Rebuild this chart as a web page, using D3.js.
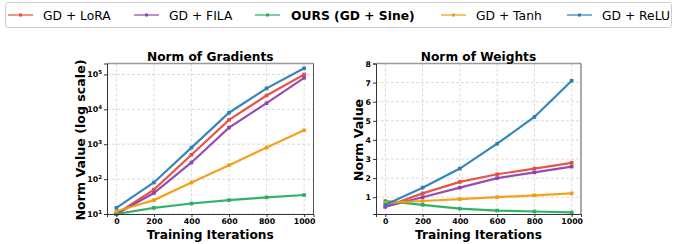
<!DOCTYPE html>
<html>
<head>
<meta charset="UTF-8">
<style>
  body { margin: 0; background: #fff; font-family: 'DejaVu Sans', sans-serif; }
  svg text { font-family: 'DejaVu Sans', sans-serif; }
  .grid line { stroke: #ccc; stroke-dasharray: 3,2; stroke-width: 0.7; }
</style>
</head>
<body>
<svg width="674" height="244"></svg>
<script src="https://cdnjs.cloudflare.com/ajax/libs/d3/7.8.5/d3.min.js"></script>
<script>
const iters = [0, 200, 400, 600, 800, 1000];
const seriesNames = ["GD + LoRA", "GD + FILA", "OURS (GD + Sine)", "GD + Tanh", "GD + ReLU"];
const colors = ["#e74c3c", "#8e44ad", "#27ae60", "#f39c12", "#2980b9"];

// Norm of gradients (log)
const gradLoRA = [10, 50, 500, 5000, 25000, 100000];
const gradFILA = [10, 40, 300, 3000, 15000, 80000];
const gradOurs = [10, 15, 20, 25, 30, 35];
const gradTanh = [12, 25, 80, 250, 800, 2500];
const gradReLU = [15, 80, 800, 8000, 40000, 150000];

// Norm of weights
const wLoRA = [0.5, 1.2, 1.8, 2.2, 2.5, 2.8];
const wFILA = [0.5, 1.0, 1.5, 2.0, 2.3, 2.6];
const wOurs = [0.8, 0.6, 0.4, 0.3, 0.25, 0.2];
const wTanh = [0.7, 0.8, 0.9, 1.0, 1.1, 1.2];
const wReLU = [0.6, 1.5, 2.5, 3.8, 5.2, 7.1];

const xTicks = [0, 200, 400, 600, 800, 1000];
const gradTicks = [10, 100, 1000, 10000, 100000];
const wTicks = [1, 2, 3, 4, 5, 6, 7, 8];

const svg = d3.select("svg");

// legend
const leg = svg.append("g");
leg.append("rect").attr("x", 5.5).attr("y", 2.5).attr("width", 666).attr("height", 25)
  .attr("rx", 3).attr("fill", "#fff").attr("stroke", "#ccc");
const legX = [8, 134, 255, 441, 567];
seriesNames.forEach((name, i) => {
  const g = leg.append("g").attr("transform", `translate(${legX[i]},15)`);
  g.append("line").attr("x1", 0).attr("x2", 25).attr("stroke", colors[i]).attr("stroke-width", 1.2);
  g.append("rect").attr("x", 11).attr("y", -1.5).attr("width", 3).attr("height", 3).attr("fill", colors[i]);
  g.append("text").attr("x", i == 2 ? 36 : 35).attr("y", 4.5).attr("font-size", 12.3)
    .attr("font-weight", i == 2 ? "bold" : "normal").attr("fill", "#000").text(name);
});

function panel(opt) {
  const g = svg.append("g");
  const x = d3.scaleLinear().domain([-50, 1050]).range([opt.left, opt.right]);
  const y = opt.log
    ? d3.scaleLog().domain(opt.ydom).range([opt.bottom, opt.top])
    : d3.scaleLinear().domain(opt.ydom).range([opt.bottom, opt.top]);

  // grid
  const grid = g.append("g").attr("class", "grid");
  grid.selectAll(".gx").data(xTicks).join("line")
    .attr("x1", d => x(d)).attr("x2", d => x(d)).attr("y1", opt.top).attr("y2", opt.bottom);
  grid.selectAll(".gy").data(opt.yticks).join("line")
    .attr("x1", opt.left).attr("x2", opt.right).attr("y1", d => y(d)).attr("y2", d => y(d));

  // lines
  opt.series.forEach((vals, i) => {
    const pts = iters.map((t, j) => [t, vals[j]]);
    g.append("path").datum(pts).attr("fill", "none").attr("stroke", colors[i])
      .attr("stroke-width", 2.2).attr("stroke-opacity", 0.95)
      .attr("d", d3.line().x(d => x(d[0])).y(d => y(d[1])));
    g.selectAll(null).data(pts).join("rect")
      .attr("x", d => x(d[0]) - 1.8).attr("y", d => y(d[1]) - 1.8)
      .attr("width", 3.6).attr("height", 3.6).attr("fill", colors[i]);
  });

  // spines
  g.append("line").attr("x1", opt.left).attr("x2", opt.right).attr("y1", opt.top).attr("y2", opt.top)
    .attr("stroke", "#999").attr("stroke-width", 1.5);
  g.append("line").attr("x1", opt.right).attr("x2", opt.right).attr("y1", opt.top).attr("y2", opt.bottom)
    .attr("stroke", "#555").attr("stroke-width", 1);

  const xa = g.append("g").attr("transform", `translate(0,${opt.bottom})`)
    .call(d3.axisBottom(x).tickValues(xTicks).tickSize(3).tickPadding(1.5).tickFormat(d3.format("d")));
  const ya = g.append("g").attr("transform", `translate(${opt.left},0)`)
    .call(d3.axisLeft(y).tickValues(opt.yticks).tickSize(3).tickPadding(2).tickFormat(opt.log ? () => "" : d3.format("d")));
  [xa, ya].forEach(a => {
    a.select(".domain").attr("stroke", "#333").attr("stroke-width", 1);
    a.selectAll(".tick line").attr("stroke", "#333");
    a.selectAll("text").attr("font-size", 7.8).attr("font-weight", "bold").attr("fill", "#000")
      .style("font-family", "'DejaVu Sans', sans-serif");
  });
  if (opt.log) {
    ya.selectAll(".tick").each(function(d) {
      const t = d3.select(this).select("text").text("");
      t.append("tspan").text("10");
      t.append("tspan").attr("font-size", 5.5).attr("dy", -3.5).text(Math.round(Math.log10(d)));
    });
  }

  g.append("text").attr("x", (opt.left + opt.right) / 2).attr("y", 61)
    .attr("text-anchor", "middle").attr("font-size", 12.2).attr("font-weight", "bold").text(opt.title);
  g.append("text").attr("x", (opt.left + opt.right) / 2).attr("y", 238.5)
    .attr("text-anchor", "middle").attr("font-size", 12.2).attr("font-weight", "bold").text("Training Iterations");
  g.append("text").attr("transform", `translate(${opt.ylabX},${opt.ylabY}) rotate(-90)`)
    .attr("text-anchor", "middle").attr("font-size", 12.6).attr("font-weight", "bold").text(opt.ylab);
}

panel({
  left: 107, right: 313.5, top: 63.5, bottom: 214, log: true,
  ydom: [10, 206000], yticks: gradTicks, title: "Norm of Gradients",
  ylab: "Norm Value (log scale)", ylabX: 85, ylabY: 140,
  series: [gradLoRA, gradFILA, gradOurs, gradTanh, gradReLU]
});
panel({
  left: 376, right: 581, top: 63.5, bottom: 214, log: false,
  ydom: [0.12, 8], yticks: wTicks, title: "Norm of Weights",
  ylab: "Norm Value", ylabX: 363, ylabY: 140,
  series: [wLoRA, wFILA, wOurs, wTanh, wReLU]
});
</script>
</body>
</html>
